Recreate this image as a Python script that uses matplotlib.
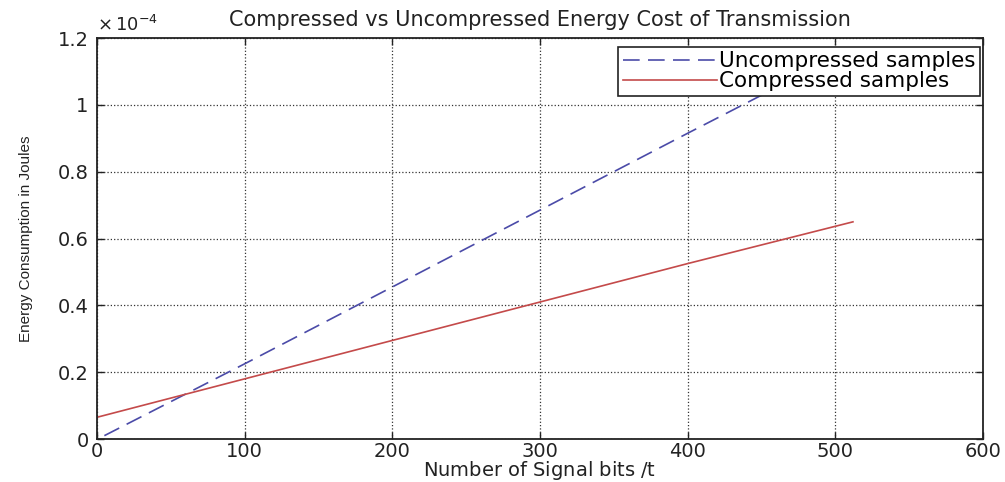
import numpy as np
import matplotlib.pyplot as plt
from matplotlib.ticker import FuncFormatter

# values (Joules)
bits_unc = [5, 100, 200, 300, 400, 512]
energy_unc = [0.01e-4, 0.225e-4, 0.455e-4, 0.685e-4, 0.915e-4, 1.17e-4]
bits_cmp = [0, 100, 200, 300, 400, 512]
energy_cmp = [0.065e-4, 0.18e-4, 0.295e-4, 0.41e-4, 0.525e-4, 0.65e-4]

xticks = [0, 100, 200, 300, 400, 500, 600]
yticks = [0, 0.2e-4, 0.4e-4, 0.6e-4, 0.8e-4, 1.0e-4, 1.2e-4]

plt.rcParams['font.family'] = ['DejaVu Sans']

fig = plt.figure(figsize=(10.05, 4.82), dpi=100)
ax = fig.add_axes([0.0965, 0.0892, 0.8815, 0.8318])

ax.plot(bits_unc, energy_unc, color='#4b4ba8', linestyle=(0, (10, 5)), lw=1.2,
        label='Uncompressed samples')
ax.plot(bits_cmp, energy_cmp, color='#c44a4a', lw=1.2, label='Compressed samples')

ax.set_xlim(0, 600)
ax.set_ylim(0, 1.2e-4)
ax.set_xticks(xticks)
ax.set_yticks(yticks)
ax.yaxis.set_major_formatter(FuncFormatter(lambda v, p: '%g' % round(v * 1e4, 3)))
ax.tick_params(direction='in', top=True, right=True, labelsize=14, colors='#222222',
               length=5, width=1, pad=2)
ax.tick_params(axis='y', pad=6)
ax.grid(True, linestyle=':', color='#333333', lw=0.9)
for s in ax.spines.values():
    s.set_linewidth(1.3)
    s.set_color('#222222')

ax.set_title('Compressed vs Uncompressed Energy Cost of Transmission', fontsize=15,
             pad=9, color='#222222')
ax.text(0.0, 1.008, r'$\times\,10^{-4}$', transform=ax.transAxes, fontsize=13,
        ha='left', va='bottom', color='#222222')
ax.set_xlabel('Number of Signal bits $/$t', fontsize=14, labelpad=-1, color='#222222')
ax.set_ylabel('Energy Consumption in Joules', fontsize=11, family=['Liberation Sans'],
              labelpad=18, color='#222222')

leg = ax.legend(loc='upper right', bbox_to_anchor=(0.997, 0.978), fontsize=15.5,
                frameon=True, fancybox=False, edgecolor='#222222', framealpha=1,
                handlelength=4.4, borderpad=0.2, labelspacing=0.0, handletextpad=0.1,
                borderaxespad=0)
leg.get_frame().set_linewidth(1.2)

fig.savefig('out.png', dpi=100)
